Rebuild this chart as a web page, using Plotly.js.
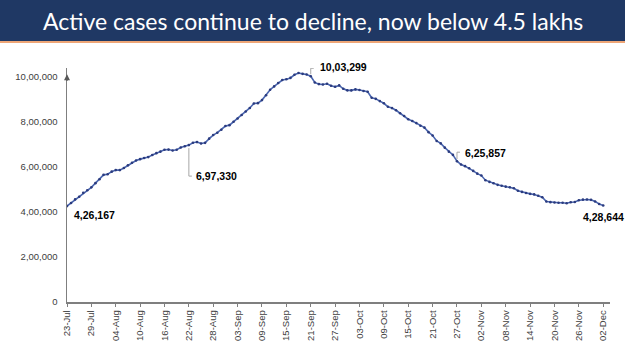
<!DOCTYPE html>
<html>
<head>
<meta charset="utf-8">
<script src="https://cdn.plot.ly/plotly-3.0.1.min.js"></script>
<style>
  html, body { margin: 0; padding: 0; background: #ffffff; }
  #chart { width: 625px; height: 351px; }
</style>
</head>
<body>
<div id="chart"></div>
<script>
// ---- DATA ----
const startDate = '2020-07-23';
const activeCases = [
  426167, 440135, 456071, 467882, 485114, 496988, 509447, 528242, 545318, 565103,
  567730, 579357, 586298, 586244, 595501, 607384, 619088, 628747, 634945, 639929,
  643948, 653622, 661595, 668220, 676900, 677444, 673166, 676514, 686395, 692028,
  697330, 707668, 710771, 704348, 707267, 725991, 742023, 752424, 765302, 781975,
  785996, 801282, 815538, 831124, 846395, 862320, 882542, 883697, 897394, 919018,
  943480, 958316, 973175, 986598, 990061, 995933, 1009976, 1017754, 1013964, 1010824,
  1003299, 975861, 968377, 966382, 970116, 960969, 956402, 962640, 947576, 940705,
  940441, 944996, 942217, 937625, 934427, 907883, 903000, 893000, 883185, 867496,
  861853, 852000, 838729, 826876, 812390, 804528, 795087, 783311, 775000, 755000,
  740090, 715812, 705000, 686000, 668154, 653717, 625857, 610803, 603687, 594386,
  582649, 570458, 561908, 541405, 533787, 527962, 520773, 516632, 512665, 509673,
  505265, 494657, 489294, 484547, 480719, 478124, 472000, 465478, 446805, 443794,
  442000, 440962, 441000, 438667, 443000, 444746, 452344, 454940, 455555, 453956,
  446952, 435603, 428644
];
const tickDates = ['2020-07-23','2020-07-29','2020-08-04','2020-08-10','2020-08-16','2020-08-22',
  '2020-08-28','2020-09-03','2020-09-09','2020-09-15','2020-09-21','2020-09-27','2020-10-03',
  '2020-10-09','2020-10-15','2020-10-21','2020-10-27','2020-11-02','2020-11-08','2020-11-14',
  '2020-11-20','2020-11-26','2020-12-02'];
const tickLabels = ['23-Jul','29-Jul','04-Aug','10-Aug','16-Aug','22-Aug','28-Aug','03-Sep',
  '09-Sep','15-Sep','21-Sep','27-Sep','03-Oct','09-Oct','15-Oct','21-Oct','27-Oct','02-Nov',
  '08-Nov','14-Nov','20-Nov','26-Nov','02-Dec'];
const yTickVals = [0, 200000, 400000, 600000, 800000, 1000000];
const yTickLabels = ['0','2,00,000','4,00,000','6,00,000','8,00,000','10,00,000'];
const labelledIdx = [0, 30, 60, 96, 132];
const labelTexts = ['4,26,167','6,97,330','10,03,299','6,25,857','4,28,644'];
const titleText = 'Active cases continue to decline, now below 4.5 lakhs';

// ---- BUILD ----
const dates = [];
{
  const d0 = new Date(startDate + 'T00:00:00Z');
  for (let i = 0; i < activeCases.length; i++) {
    const d = new Date(d0.getTime() + i * 86400000);
    dates.push(d.toISOString().slice(0, 10));
  }
}

const trace = {
  x: dates, y: activeCases, type: 'scatter', mode: 'lines+markers',
  line: { color: '#4a66b0', width: 1.6 },
  marker: { color: '#2b3b7e', size: 2.6 },
  hoverinfo: 'x+y'
};

const W = 625, H = 351, ML = 67, MR = 15, MT = 68, MB = 49;
const pw = W - ML - MR, ph = H - MT - MB;

// label placement (pixel offsets relative to the data point)
const labelStyle = [
  { dx: 5, dy: -9, leader: null },
  { dx: 5, dy: -31, leader: [-3, -31] },
  { dx: 7, dy: 9, leader: [2, 8] },
  { dx: 6, dy: 8, leader: [2, 9] },
  { dx: -22, dy: -11, leader: null }
];

const annotations = [];
const shapes = [];
labelledIdx.forEach((idx, k) => {
  const s = labelStyle[k];
  annotations.push({
    x: dates[idx], y: activeCases[idx], xref: 'x', yref: 'y',
    text: '<b>' + labelTexts[k] + '</b>', showarrow: false,
    xanchor: 'left', yanchor: 'middle', xshift: s.dx, yshift: s.dy,
    font: { family: 'Liberation Sans, Arial, sans-serif', size: 10.5, color: '#000000' }
  });
  if (s.leader) {
    shapes.push({
      type: 'line', xref: 'x', yref: 'y', xsizemode: 'pixel', ysizemode: 'pixel',
      xanchor: dates[idx], yanchor: activeCases[idx],
      x0: 0, x1: 0, y0: s.leader[0], y1: s.leader[1],
      line: { color: '#a6a6a6', width: 1 }
    });
    shapes.push({
      type: 'line', xref: 'x', yref: 'y', xsizemode: 'pixel', ysizemode: 'pixel',
      xanchor: dates[idx], yanchor: activeCases[idx],
      x0: 0, x1: 3, y0: s.leader[1], y1: s.leader[1],
      line: { color: '#a6a6a6', width: 1 }
    });
  }
});

// y axis arrow tip
annotations.push({
  x: 0, xref: 'paper', y: 1012000, yref: 'y', ax: 0, ay: 8, axref: 'pixel', ayref: 'pixel',
  showarrow: true, arrowhead: 2, arrowsize: 0.8, arrowwidth: 1.5, arrowcolor: '#595959', text: ''
});

// title banner and orange rule
shapes.push({ type: 'rect', xref: 'paper', yref: 'paper', x0: -ML / pw, x1: 1 + MR / pw,
  y0: 1 + (MT - 41) / ph, y1: 1 + MT / ph, line: { width: 0 }, fillcolor: '#1f3864' });
shapes.push({ type: 'line', xref: 'paper', yref: 'paper', x0: -ML / pw, x1: 1 + MR / pw,
  y0: 1 + (MT - 42) / ph, y1: 1 + (MT - 42) / ph, line: { width: 1.5, color: '#e8894a' } });
annotations.push({
  text: titleText, xref: 'paper', yref: 'paper',
  x: (312.5 - ML) / pw, y: 1 + (MT - 21) / ph,
  showarrow: false, font: { family: 'Lato, sans-serif', size: 23, color: '#ffffff' },
  xanchor: 'center', yanchor: 'middle'
});

const layout = {
  width: W, height: H,
  margin: { l: ML, r: MR, t: MT, b: MB },
  paper_bgcolor: '#ffffff', plot_bgcolor: '#ffffff',
  showlegend: false,
  xaxis: {
    type: 'date',
    range: ['2020-07-23', '2020-12-03 16:00'],
    tickvals: tickDates, ticktext: tickLabels, tickangle: -90,
    showgrid: false, zeroline: false,
    showline: true, linecolor: '#7f7f7f', linewidth: 1.5,
    ticks: 'outside', ticklen: 3, tickcolor: '#7f7f7f', tickwidth: 1,
    tickfont: { family: 'Liberation Sans, Arial, sans-serif', size: 9.5, color: '#404040' }
  },
  yaxis: {
    range: [0, 1040000],
    tickvals: yTickVals, ticktext: yTickLabels,
    showgrid: false, zeroline: false,
    showline: true, linecolor: '#7f7f7f', linewidth: 1.5,
    ticks: '', ticklabelstandoff: 6,
    tickfont: { family: 'Liberation Sans, Arial, sans-serif', size: 9.5, color: '#404040' }
  },
  shapes: shapes,
  annotations: annotations
};

Plotly.newPlot('chart', [trace], layout, { displayModeBar: false, staticPlot: true });
</script>
</body>
</html>
